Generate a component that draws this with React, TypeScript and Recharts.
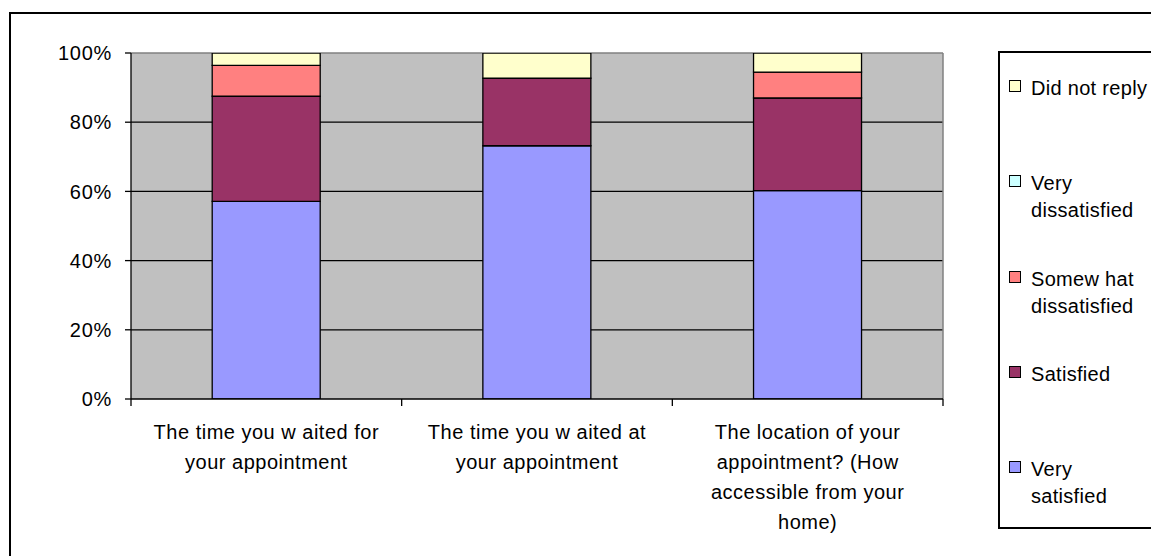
import React from "react";
import { BarChart, Bar, XAxis, YAxis, CartesianGrid } from "recharts";

const FONT = "'Liberation Sans', Arial, sans-serif";

// categories, one string per bar, lines split on "\n"
const categories = [
  "The time you w aited for\nyour appointment",
  "The time you w aited at\nyour appointment",
  "The location of your\nappointment? (How\naccessible from your\nhome)",
];

// percentages, stacked bottom to top
const verySatisfied = [57.1, 73.2, 60.2];
const satisfied = [30.4, 19.5, 26.8];
const somewhatDissatisfied = [8.9, 0, 7.5];
const veryDissatisfied = [0, 0, 0];
const didNotReply = [3.6, 7.3, 5.5];

const yTicks = [0, 20, 40, 60, 80, 100];

const series = [
  { key: "verySatisfied", label: "Very\nsatisfied", color: "#9999FF", values: verySatisfied },
  { key: "satisfied", label: "Satisfied", color: "#993366", values: satisfied },
  { key: "somewhat", label: "Somew hat\ndissatisfied", color: "#FF8080", values: somewhatDissatisfied },
  { key: "veryDissatisfied", label: "Very\ndissatisfied", color: "#CCFFFF", values: veryDissatisfied },
  { key: "didNotReply", label: "Did not reply", color: "#FFFFCC", values: didNotReply },
];

const data = categories.map((name, i) => {
  const row: any = { name };
  series.forEach((s) => (row[s.key] = s.values[i]));
  return row;
});

function CategoryTick(props: any) {
  const { x, y, payload, index, visibleTicksCount, width } = props;
  const band = width && visibleTicksCount ? width / visibleTicksCount : (payload?.offset || 0) * 2;
  const lines = String(payload.value).split("\n");
  return (
    <g>
      <line x1={x - band / 2} x2={x - band / 2} y1={y} y2={y + 7} stroke="#000" strokeWidth={1.3} />
      {index === visibleTicksCount - 1 && (
        <line x1={x + band / 2} x2={x + band / 2} y1={y} y2={y + 7} stroke="#000" strokeWidth={1.3} />
      )}
      <text textAnchor="middle" fill="#000" fontSize={20} fontFamily={FONT} letterSpacing={0.5}>
        {lines.map((l, i) => (
          <tspan key={i} x={x} y={y + 40 + i * 30}>
            {l}
          </tspan>
        ))}
      </text>
    </g>
  );
}

function LegendBox() {
  const items = [...series].reverse();
  return (
    <div
      style={{
        position: "absolute",
        left: 998,
        top: 51,
        width: 220,
        height: 478,
        border: "2px solid #000",
        boxSizing: "border-box",
        background: "#fff",
        fontFamily: FONT,
        fontSize: 20,
        letterSpacing: 0.3,
        color: "#000",
      }}
    >
      {items.map((s, i) => (
        <div key={s.key} style={{ position: "absolute", left: 0, top: 22 + i * 95.3 }}>
          <div
            style={{
              position: "absolute",
              left: 9,
              top: 5,
              width: 12,
              height: 12,
              background: s.color,
              border: "1.5px solid #000",
              boxSizing: "border-box",
            }}
          />
          <div style={{ position: "absolute", left: 31, top: 0, lineHeight: "27px", whiteSpace: "pre" }}>
            {s.label}
          </div>
        </div>
      ))}
    </div>
  );
}

export default function App() {
  return (
    <div
      style={{
        position: "fixed",
        left: 0,
        top: 0,
        width: 1151,
        height: 556,
        background: "#fff",
        overflow: "hidden",
        fontFamily: FONT,
      }}
    >
      <div
        style={{
          position: "absolute",
          left: 9,
          top: 12,
          width: 1300,
          height: 700,
          border: "2px solid #000",
          boxSizing: "border-box",
        }}
      />
      <div style={{ position: "absolute", left: 0, top: 0 }}>
        <BarChart
          width={1151}
          height={556}
          data={data}
          margin={{ top: 53, right: 208, left: 0, bottom: 0 }}
          barCategoryGap="30%"
        >
          <CartesianGrid
            vertical={false}
            horizontalValues={[20, 40, 60, 80]}
            stroke="#000"
            strokeWidth={1.3}
            fill="#C0C0C0"
            fillOpacity={1}
          />
          <CartesianGrid
            horizontalCoordinatesGenerator={({ offset }: any) => [offset.top]}
            verticalCoordinatesGenerator={({ offset }: any) => [offset.left + offset.width]}
            stroke="#808080"
            strokeWidth={1.5}
          />
          <XAxis
            dataKey="name"
            height={157}
            axisLine={{ stroke: "#000", strokeWidth: 1.3 }}
            tickLine={false}
            tickSize={0}
            tickMargin={0}
            interval={0}
            tick={<CategoryTick />}
          />
          <YAxis
            width={131}
            domain={[0, 100]}
            ticks={yTicks}
            tickFormatter={(v) => `${v}%`}
            axisLine={{ stroke: "#000", strokeWidth: 1.3 }}
            tickLine={{ stroke: "#000", strokeWidth: 1.3 }}
            tickSize={6}
            tickMargin={13}
            tick={{ fill: "#000", fontSize: 20, fontFamily: FONT, letterSpacing: 0.7 }}
            allowDataOverflow
          />
          {series.map((s) => (
            <Bar
              key={s.key}
              dataKey={s.key}
              stackId="a"
              fill={s.color}
              stroke="#000"
              strokeWidth={1.3}
              isAnimationActive={false}
            />
          ))}
        </BarChart>
      </div>
      <LegendBox />
    </div>
  );
}
